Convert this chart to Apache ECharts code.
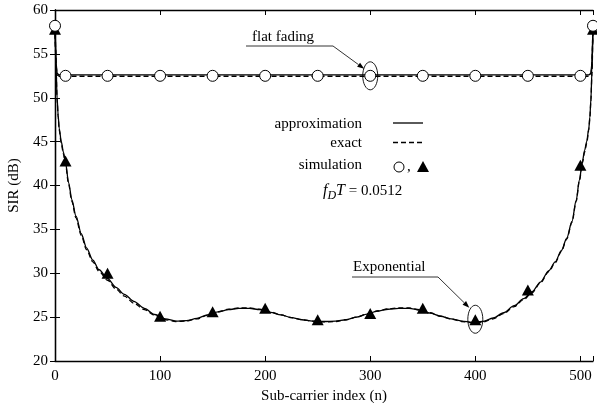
<!DOCTYPE html>
<html><head><meta charset="utf-8">
<script src="https://cdn.jsdelivr.net/npm/echarts@6/dist/echarts.min.js"></script>
<style>html,body{margin:0;padding:0;background:#fff}#c{width:597px;height:403px}</style>
</head><body><div id="c"></div>
<script>
// ---- data ----
const flatN       = [0, 1, 2, 4, 256, 508, 510, 511, 512];
const flatApprox  = [58.2, 54.0, 52.8, 52.6, 52.6, 52.6, 52.8, 54.0, 58.2];
const flatExact   = [58.2, 53.8, 52.6, 52.45, 52.45, 52.45, 52.6, 53.8, 58.2];

const expN = [0,1,2,3,4,6,8,10,13,16,20,25,30,36,42,50,58,66,75,85,95,105,115,125,135,145,155,165,175,185,195,205,215,225,235,245,256,
              267,277,287,297,307,317,327,337,347,357,367,377,387,397,407,417,427,437,446,454,462,470,476,482,487,492,496,499,502,504,506,508,509,510,511,512];
const expApprox = [58.2,53.5,50.0,48.0,46.5,45.0,43.8,42.6,40.3,38.4,36.5,34.5,32.9,31.5,30.4,29.4,28.4,27.6,26.8,26.0,25.3,24.8,24.55,24.6,24.85,25.25,25.6,25.85,26.0,26.0,25.85,25.55,25.25,24.95,24.7,24.55,24.5,
              24.55,24.7,25.0,25.35,25.7,25.9,26.0,26.0,25.8,25.45,25.1,24.8,24.55,24.4,24.5,24.9,25.5,26.3,27.1,27.9,29.0,30.3,31.3,32.6,34.0,35.9,38.3,40.6,42.8,44.0,45.0,46.5,47.8,49.8,53.0,58.2];
const expExact  = [58.2,53.3,49.8,47.8,46.3,44.8,43.6,42.4,40.1,38.2,36.3,34.3,32.7,31.3,30.2,29.2,28.2,27.4,26.6,25.85,25.2,24.7,24.5,24.55,24.8,25.2,25.6,25.9,26.05,26.05,25.9,25.6,25.25,24.95,24.7,24.55,24.45,
              24.5,24.7,25.0,25.35,25.7,25.95,26.05,26.05,25.85,25.5,25.1,24.8,24.5,24.35,24.45,24.8,25.4,26.2,27.0,27.8,28.9,30.2,31.2,32.5,33.9,35.8,38.2,40.5,42.6,43.8,44.8,46.3,47.6,49.6,52.8,58.2];

const simFlatN = [0, 10, 50, 100, 150, 200, 250, 300, 350, 400, 450, 500, 512];
const simFlatV = [58.2, 52.5, 52.5, 52.5, 52.5, 52.5, 52.5, 52.5, 52.5, 52.5, 52.5, 52.5, 58.2];
const simExpN  = [0, 10, 50, 100, 150, 200, 250, 300, 350, 400, 450, 500, 512];
const simExpV  = [57.8, 42.8, 30.0, 25.1, 25.6, 26.0, 24.7, 25.4, 26.0, 24.7, 28.1, 42.3, 57.8];

const xTicks = [0, 100, 200, 300, 400, 500];
const yTicks = [20, 25, 30, 35, 40, 45, 50, 55, 60];

const zip = (a, b) => a.map((v, i) => [v, b[i]]);
const FONT = '"Liberation Serif", "Times New Roman", serif';
const chart = echarts.init(document.getElementById('c'), null, {renderer: 'canvas'});

const axisLine = {show: true, lineStyle: {color: '#000', width: 1.3}};
const tick = {show: true, inside: true, length: 5, lineStyle: {color: '#000', width: 1}};
const labelStyle = {color: '#000', fontFamily: FONT, fontSize: 15};

chart.setOption({
  animation: false,
  backgroundColor: '#fff',
  grid: {left: 55, right: 4, top: 10, bottom: 42, containLabel: false, outerBoundsMode: 'none'},
  xAxis: [
    {type: 'value', min: 0, max: 512, interval: 100, position: 'bottom',
     axisLine, axisTick: tick, splitLine: {show: false},
     axisLabel: Object.assign({margin: 8, showMaxLabel: true,
       formatter: v => xTicks.indexOf(v) >= 0 ? String(v) : ''}, labelStyle),
     name: 'Sub-carrier index (n)', nameLocation: 'middle', nameGap: 23,
     nameTextStyle: labelStyle},
    {type: 'value', min: 0, max: 512, interval: 100, position: 'top',
     axisLine, axisTick: tick, splitLine: {show: false}, axisLabel: {show: false}}
  ],
  yAxis: [
    {type: 'value', min: 20, max: 60, interval: 5, position: 'left',
     axisLine, axisTick: tick, splitLine: {show: false},
     axisLabel: Object.assign({margin: 7, formatter: v => yTicks.indexOf(v) >= 0 ? String(v) : ''}, labelStyle),
     name: 'SIR (dB)', nameLocation: 'middle', nameGap: 33, nameTextStyle: labelStyle},
    {type: 'value', min: 20, max: 60, interval: 5, position: 'right',
     axisLine, axisTick: tick, splitLine: {show: false}, axisLabel: {show: false}}
  ],
  series: [
    {type: 'line', data: zip(flatN, flatApprox), symbol: 'none', lineStyle: {color: '#000', width: 1.3}},
    {type: 'line', data: zip(flatN, flatExact), symbol: 'none', lineStyle: {color: '#000', width: 1.3, type: [5, 3]}},
    {type: 'line', data: zip(expN, expApprox), symbol: 'none', smooth: 0.3, smoothMonotone: 'x', lineStyle: {color: '#000', width: 1.3}},
    {type: 'line', data: zip(expN, expExact), symbol: 'none', smooth: 0.3, smoothMonotone: 'x', lineStyle: {color: '#000', width: 1.3, type: [5, 3]}},
    {type: 'scatter', data: zip(simExpN, simExpV), symbol: 'triangle', symbolSize: [12, 11], clip: false,
     itemStyle: {color: '#000', opacity: 1}, z: 3},
    {type: 'scatter', data: zip(simFlatN, simFlatV), symbol: 'circle', symbolSize: 11, clip: false,
     itemStyle: {color: '#fff', borderColor: '#000', borderWidth: 1, opacity: 1}, z: 4}
  ]
});

// ---- annotations ----
function px(x, y) { return chart.convertToPixel({xAxisIndex: 0, yAxisIndex: 0}, [x, y]); }
function arrow(x1, y1, x2, y2) {
  const a = Math.atan2(y2 - y1, x2 - x1), L = 7, W = 2.5;
  const bx = x2 - L * Math.cos(a), by = y2 - L * Math.sin(a);
  return [
    {type: 'line', shape: {x1, y1, x2: bx, y2: by}, style: {stroke: '#000', lineWidth: 0.8}, z: 10},
    {type: 'polygon', shape: {points: [[x2, y2], [bx - W * Math.sin(a), by + W * Math.cos(a)], [bx + W * Math.sin(a), by - W * Math.cos(a)]]},
     style: {fill: '#000'}, z: 10}
  ];
}
const pFlat = px(simFlatN[7], simFlatV[7]);
const pExp = px(simExpN[9], simExpV[9]);
const txt = (x, y, t, align) => ({type: 'text', x, y, z: 10,
  style: {text: t, fill: '#000', font: '15px ' + FONT, textAlign: align || 'left', textVerticalAlign: 'middle'}});

const g = [
  txt(252, 37, 'flat fading'),
  {type: 'line', shape: {x1: 246, y1: 46, x2: 333, y2: 46}, style: {stroke: '#000', lineWidth: 0.8}, z: 10},
  ...arrow(333, 46, pFlat[0] - 6, pFlat[1] - 7),
  {type: 'ellipse', shape: {cx: pFlat[0], cy: pFlat[1], rx: 7.5, ry: 14}, style: {fill: 'none', stroke: '#000', lineWidth: 0.9}, z: 10},

  txt(353, 267, 'Exponential'),
  {type: 'line', shape: {x1: 352, y1: 277, x2: 438, y2: 277}, style: {stroke: '#000', lineWidth: 0.8}, z: 10},
  ...arrow(438, 277, pExp[0] - 6, pExp[1] - 12),
  {type: 'ellipse', shape: {cx: pExp[0], cy: pExp[1] - 0.5, rx: 7.5, ry: 14}, style: {fill: 'none', stroke: '#000', lineWidth: 0.9}, z: 10},

  txt(362, 124, 'approximation', 'right'),
  txt(362, 143, 'exact', 'right'),
  txt(362, 165, 'simulation', 'right'),
  {type: 'line', shape: {x1: 393, y1: 123, x2: 423, y2: 123}, style: {stroke: '#000', lineWidth: 1.3}, z: 10},
  {type: 'line', shape: {x1: 393, y1: 142.5, x2: 423, y2: 142.5}, style: {stroke: '#000', lineWidth: 1.3, lineDash: [5, 3]}, z: 10},
  {type: 'circle', shape: {cx: 399, cy: 167, r: 5}, style: {fill: '#fff', stroke: '#000', lineWidth: 1}, z: 10},
  txt(407, 167, ','),
  {type: 'polygon', shape: {points: [[423, 161], [429, 172], [417, 172]]}, style: {fill: '#000'}, z: 10},
  {type: 'text', x: 323, y: 191, z: 10,
   style: {text: '{i|f}{s|D}{i|T} = 0.0512', textVerticalAlign: 'middle', fill: '#000', font: '15px ' + FONT,
     rich: {i: {fontFamily: FONT, fontSize: 16, fontStyle: 'italic'},
            s: {fontFamily: FONT, fontSize: 12, fontStyle: 'italic', padding: [9, 0, 0, 0]}}}}
];
chart.setOption({graphic: g});
</script></body></html>
